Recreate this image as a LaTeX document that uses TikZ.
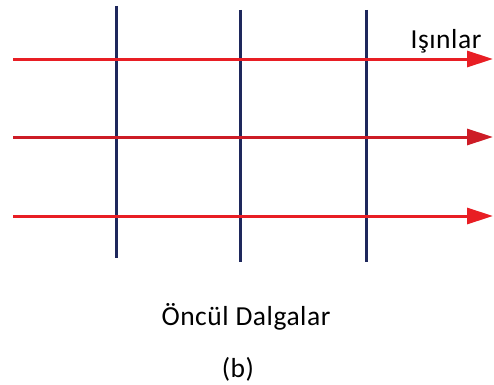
\documentclass[tikz,border=0pt]{standalone}
\usepackage{fontspec}
\setmainfont{Carlito}[LetterSpace=2]
\usepackage{xcolor}
\usetikzlibrary{arrows.meta, positioning}

\definecolor{raycol}{RGB}{232,30,36}
\definecolor{raydark}{RGB}{205,28,38}
\definecolor{wavecol}{RGB}{30,40,92}

\begin{document}
\begin{tikzpicture}[
    x=1pt, y=1pt,
    ray/.style={-{Triangle[length=26pt, width=16pt]}, line width=3pt, raycol},
    wave/.style={line width=3pt, wavecol},
    lbl/.style={font=\fontsize{27.5}{30}\selectfont, inner sep=0pt}
  ]
  \useasboundingbox (0,0) rectangle (494,384);
  % rays
  \coordinate (r1s) at (13,325);  \coordinate (r1e) at (493,325);
  \coordinate (r2s) at (13,247);  \coordinate (r2e) at (493,247);
  \coordinate (r3s) at (13,168);  \coordinate (r3e) at (493,168);
  % wavefronts
  \coordinate (w1t) at (116,378); \coordinate (w1b) at (116,126);
  \coordinate (w2t) at (240,374); \coordinate (w2b) at (240,122);
  \coordinate (w3t) at (366,374); \coordinate (w3b) at (366,122);
  \foreach \w in {w1,w2,w3}
    \draw[wave] (\w t) -- (\w b);
  \draw[ray] (r1s) -- (r1e);
  \draw[ray, raydark] (r2s) -- (r2e);
  \draw[ray] (r3s) -- (r3e);
  \node[lbl] (rays) at (446,343) {Işınlar};
  \node[lbl] (fronts) at (246,67) {Öncül Dalgalar};
  \node[lbl] (tag) at (238,15) {(b)};
\end{tikzpicture}
\end{document}
